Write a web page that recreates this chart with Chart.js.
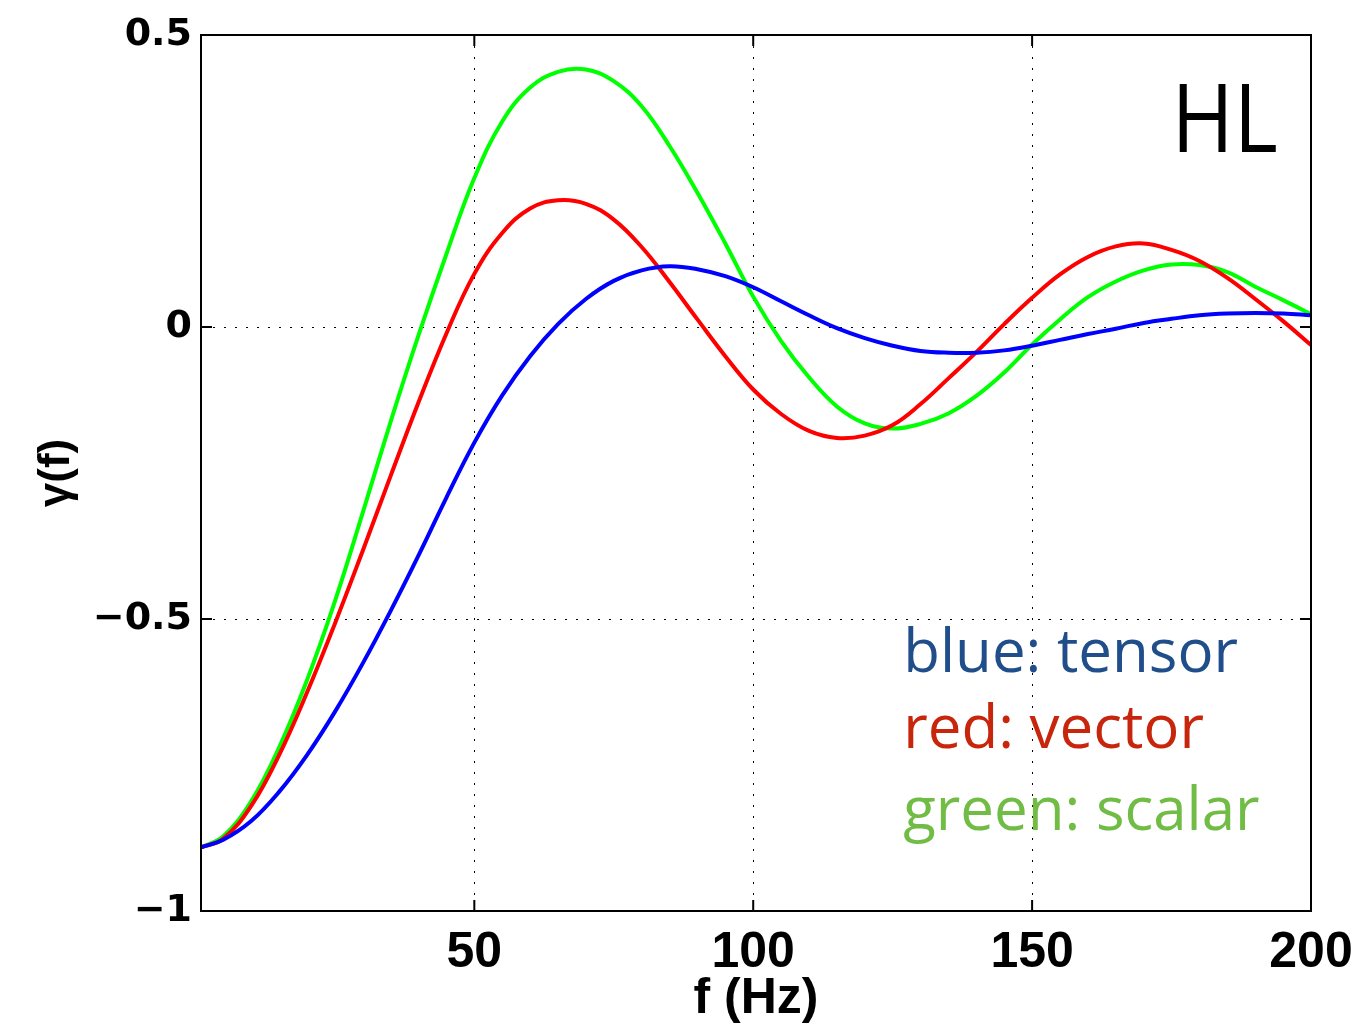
<!DOCTYPE html>
<html>
<head>
<meta charset="utf-8">
<script src="https://cdn.jsdelivr.net/npm/chart.js@4.4.1/dist/chart.umd.min.js"></script>
<style>
  body { margin: 0; background: #fff; }
  #wrap { width: 1358px; height: 1033px; }
</style>
</head>
<body>
<div id="wrap"><canvas id="orf"></canvas></div>
<script>
// frequency (Hz) and overlap reduction values
const freq = [1, 5, 10, 15, 20, 25, 30, 35, 40, 45, 50, 55, 60, 65, 70, 75, 80, 85, 90, 95, 100,
    105, 110, 115, 120, 125, 130, 135, 140, 145, 150, 155, 160, 165, 170, 175, 180, 185, 190, 195, 200];
const tensor = [-0.891, -0.878, -0.846, -0.796, -0.733, -0.659, -0.576, -0.486, -0.391, -0.292, -0.198,
    -0.117, -0.050, 0.005, 0.048, 0.079, 0.097, 0.104, 0.099, 0.087, 0.068,
    0.044, 0.020, -0.002, -0.019, -0.032, -0.041, -0.044, -0.044, -0.040, -0.032,
    -0.022, -0.012, -0.003, 0.007, 0.014, 0.020, 0.023, 0.024, 0.023, 0.020];
const vector = [-0.891, -0.876, -0.820, -0.733, -0.626, -0.508, -0.383, -0.255, -0.129, -0.011, 0.091,
    0.161, 0.203, 0.217, 0.211, 0.184, 0.137, 0.077, 0.013, -0.050, -0.107,
    -0.149, -0.178, -0.190, -0.186, -0.168, -0.132, -0.088, -0.043, 0.005, 0.050,
    0.090, 0.120, 0.138, 0.143, 0.132, 0.113, 0.084, 0.048, 0.010, -0.031];
const scalar = [-0.891, -0.872, -0.812, -0.720, -0.605, -0.470, -0.318, -0.162, -0.014, 0.125, 0.255,
    0.352, 0.410, 0.437, 0.441, 0.421, 0.378, 0.310, 0.230, 0.143, 0.052,
    -0.024, -0.086, -0.136, -0.165, -0.174, -0.166, -0.148, -0.118, -0.078, -0.030,
    0.013, 0.051, 0.078, 0.097, 0.107, 0.106, 0.094, 0.069, 0.046, 0.022];
const xTicks = [50, 100, 150, 200];
const yTicks = [-1, -0.5, 0, 0.5];

const pts = (ys) => freq.map((f, i) => ({ x: f, y: ys[i] }));

function drawText(ctx, txt, px, py, font, color, sx) {
    ctx.save();
    ctx.font = font;
    ctx.fillStyle = color;
    ctx.textBaseline = "alphabetic";
    ctx.translate(px, py);
    ctx.scale(sx, 1);
    ctx.fillText(txt, 0, 0);
    ctx.restore();
}

const frame = {
    id: "frame",
    afterDraw(chart) {
        const { ctx, chartArea: a, scales: { x, y } } = chart;
        ctx.save();
        ctx.strokeStyle = "#000";
        ctx.lineWidth = 2;
        ctx.strokeRect(a.left, a.top, a.right - a.left, a.bottom - a.top);
        ctx.beginPath();
        xTicks.forEach((v) => {
            const px = x.getPixelForValue(v);
            ctx.moveTo(px, a.bottom); ctx.lineTo(px, a.bottom - 11);
            ctx.moveTo(px, a.top); ctx.lineTo(px, a.top + 11);
        });
        yTicks.forEach((v) => {
            const py = y.getPixelForValue(v);
            ctx.moveTo(a.left, py); ctx.lineTo(a.left + 11, py);
            ctx.moveTo(a.right, py); ctx.lineTo(a.right - 11, py);
        });
        ctx.stroke();
        ctx.restore();

        drawText(ctx, "HL", x.getPixelForValue(175.0), y.getPixelForValue(0.3),
            "96px 'Open Sans'", "#000", 0.88);
        drawText(ctx, "blue: tensor", x.getPixelForValue(126.9), y.getPixelForValue(-0.59),
            "60px 'Open Sans'", "#1f4e8a", 1);
        drawText(ctx, "red: vector", x.getPixelForValue(126.9), y.getPixelForValue(-0.721),
            "60px 'Open Sans'", "#c8260c", 1);
        drawText(ctx, "green: scalar", x.getPixelForValue(126.9), y.getPixelForValue(-0.861),
            "60px 'Open Sans'", "#70bc45", 1);
    },
};

new Chart(document.getElementById("orf"), {
    type: "line",
    data: {
        datasets: [
            { label: "tensor", data: pts(tensor), borderColor: "#0000ff" },
            { label: "vector", data: pts(vector), borderColor: "#ff0000" },
            { label: "scalar", data: pts(scalar), borderColor: "#00ff00" },
        ],
    },
    options: {
        responsive: true,
        maintainAspectRatio: false,
        animation: false,
        devicePixelRatio: 1,
        layout: { padding: { top: 35, right: 47, left: 0, bottom: 0 } },
        elements: {
            point: { radius: 0 },
            line: { borderWidth: 4, tension: 0.4, fill: false },
        },
        plugins: { legend: { display: false }, tooltip: { enabled: false } },
        scales: {
            x: {
                type: "linear",
                min: 1,
                max: 200,
                afterBuildTicks: (s) => { s.ticks = xTicks.map((v) => ({ value: v })); },
                afterFit: (s) => { s.height = 122; s.paddingLeft = 0; s.paddingRight = 0; },
                grid: { color: "#000", lineWidth: 1, drawTicks: false },
                border: { display: true, color: "#000", width: 2, dash: [2, 9] },
                ticks: {
                    color: "#000",
                    padding: 12,
                    font: { family: "'Liberation Sans'", weight: "bold", size: 50 },
                },
                title: {
                    display: true,
                    text: "f (Hz)",
                    color: "#000",
                    padding: { top: 0, bottom: 4 },
                    font: { family: "'Liberation Sans'", weight: "bold", size: 50 },
                },
            },
            y: {
                min: -1,
                max: 0.5,
                afterBuildTicks: (s) => { s.ticks = yTicks.map((v) => ({ value: v })); },
                afterFit: (s) => { s.width = 201; s.paddingTop = 0; s.paddingBottom = 0; },
                grid: { color: "#000", lineWidth: 1, drawTicks: false },
                border: { display: true, color: "#000", width: 2, dash: [2, 9] },
                ticks: {
                    color: "#000",
                    padding: 9,
                    font: { family: "'DejaVu Sans'", weight: "bold", size: 38 },
                    callback: (v) => String(v).replace("-", "\u2212"),
                },
                title: {
                    display: true,
                    text: "\u03b3(f)",
                    color: "#000",
                    padding: { top: 30, bottom: 0 },
                    font: { family: "'Liberation Sans'", weight: "bold", size: 44 },
                },
            },
        },
    },
    plugins: [frame],
});
</script>
</body>
</html>
